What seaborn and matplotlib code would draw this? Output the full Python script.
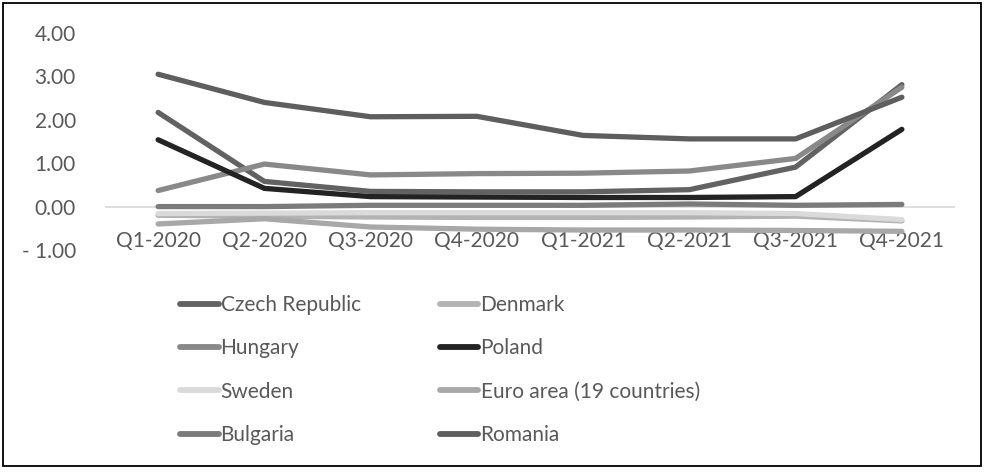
import matplotlib
matplotlib.use("Agg")
import matplotlib.pyplot as plt
from matplotlib.patches import Rectangle
from matplotlib.ticker import FuncFormatter
import seaborn as sns
import pandas as pd

# Quarterly values per country
quarters = ["Q1-2020", "Q2-2020", "Q3-2020", "Q4-2020",
            "Q1-2021", "Q2-2021", "Q3-2021", "Q4-2021"]
czech_republic = [2.17, 0.58, 0.35, 0.34, 0.34, 0.39, 0.91, 2.81]
denmark = [-0.20, -0.22, -0.24, -0.25, -0.25, -0.24, -0.22, -0.33]
hungary = [0.37, 0.98, 0.73, 0.76, 0.77, 0.82, 1.11, 2.75]
poland = [1.54, 0.42, 0.23, 0.22, 0.21, 0.21, 0.23, 1.78]
sweden = [-0.16, -0.15, -0.14, -0.14, -0.14, -0.14, -0.16, -0.30]
euro_area = [-0.40, -0.28, -0.47, -0.52, -0.54, -0.54, -0.55, -0.57]
bulgaria = [0.00, 0.00, 0.03, 0.03, 0.03, 0.06, 0.03, 0.05]
romania = [3.05, 2.40, 2.07, 2.08, 1.64, 1.56, 1.56, 2.52]

countries = ["Czech Republic", "Denmark", "Hungary", "Poland",
             "Sweden", "Euro area (19 countries)", "Bulgaria", "Romania"]
series = [czech_republic, denmark, hungary, poland,
          sweden, euro_area, bulgaria, romania]
colors = ["#626262", "#b3b3b3", "#898989", "#232323",
          "#dadada", "#a8a8a8", "#7b7b7b", "#5e5e5e"]

df = pd.DataFrame(
    [(c, q, v) for c, vals in zip(countries, series) for q, v in zip(quarters, vals)],
    columns=["Country", "Quarter", "Value"],
)

sns.set_theme(style="white")
plt.rcParams["font.family"] = ["Lato", "DejaVu Sans"]
text_color = "#595959"
fs = 15

W, H = 985, 472
fig = plt.figure(figsize=(W / 100, H / 100), dpi=100)
ax = fig.add_axes([105 / W, 1 - 250 / H, 850 / W, 217 / H])

ax.axhline(0, color="#d9d9d9", lw=1.2, zorder=0)

sns.lineplot(
    data=df, x="Quarter", y="Value", hue="Country",
    hue_order=countries, palette=dict(zip(countries, colors)),
    sort=False, lw=3.8, ax=ax, legend=True,
)
for line in ax.get_lines():
    line.set_solid_capstyle("round")
    line.set_solid_joinstyle("round")

ax.set_xlim(-0.5, len(quarters) - 0.5)
ax.set_ylim(-1, 4)
ax.set_yticks([-1, 0, 1, 2, 3, 4])


def fmt(v, pos):
    return f"- {abs(v):.2f}" if v < 0 else f"{v:.2f}"


ax.yaxis.set_major_formatter(FuncFormatter(fmt))
ax.tick_params(axis="y", length=0, pad=21, labelsize=fs, labelcolor=text_color)

# category labels sit just under the zero line
ax.set_xticks(range(len(quarters)))
ax.set_xticklabels(quarters)
ax.tick_params(axis="x", length=0, pad=-13.5, labelsize=fs, labelcolor=text_color)
for lbl in ax.get_xticklabels():
    lbl.set_verticalalignment("top")

ax.set_xlabel("")
ax.set_ylabel("")
for s in ax.spines.values():
    s.set_visible(False)
ax.grid(False)

handles, labels = ax.get_legend_handles_labels()
ax.get_legend().remove()
for h in handles:
    h.set_linewidth(4.2)
    h.set_solid_capstyle("round")
# legend reads row by row: fill the two columns with alternating entries
order = list(range(0, len(labels), 2)) + list(range(1, len(labels), 2))
leg = fig.legend(
    [handles[i] for i in order], [labels[i] for i in order],
    ncol=2, loc="upper left",
    bbox_to_anchor=(180 / W, 1 - 295 / H), bbox_transform=fig.transFigure,
    frameon=False, fontsize=fs, handlelength=1.85, handletextpad=0.1,
    columnspacing=3.8, labelspacing=1.12, borderpad=0, borderaxespad=0,
)
for t in leg.get_texts():
    t.set_color(text_color)

fig.patches.append(Rectangle((3 / W, 1 - 466 / H), 978 / W, 463 / H,
                             transform=fig.transFigure, fill=False,
                             edgecolor="black", lw=1.3))

fig.savefig("out.png", dpi=100)
